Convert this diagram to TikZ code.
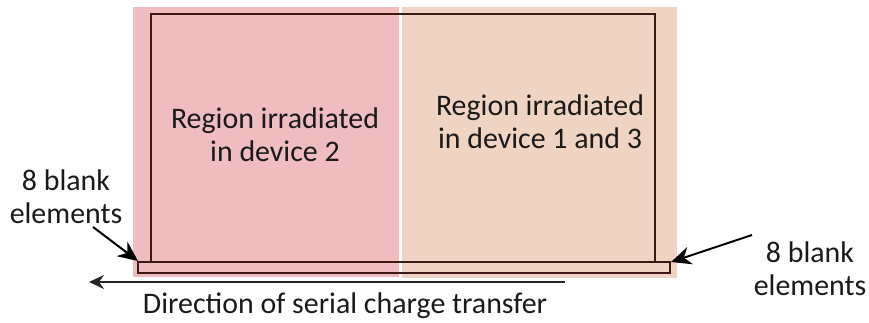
\documentclass[tikz,border=0pt]{standalone}
\usepackage{fontspec}
\setmainfont{Carlito}
\usetikzlibrary{arrows.meta}
\definecolor{pinkreg}{HTML}{EFBCBF}
\definecolor{peachreg}{HTML}{F0D4C3}
\definecolor{outl}{HTML}{3A1A12}
\definecolor{txt}{HTML}{1A1A1A}
\tikzset{
  lbl/.style={font=\fontsize{30}{33}\selectfont, text=txt, align=center, inner sep=0pt},
  outline/.style={draw=outl, line width=2bp},
  ptr/.style={draw=black, line width=2bp, -{Stealth[length=20bp,width=18bp]}},
  dirarrow/.style={draw=black!85, line width=2bp, -{Stealth[length=15bp,width=14bp,inset=5bp]}}
}
\begin{document}
\begin{tikzpicture}[x=1bp,y=-1bp]
\useasboundingbox (0,0) rectangle (869,322);
% regions
\fill[pinkreg] (133,7) rectangle (399,277);
\fill[peachreg] (402,7) rectangle (677,278);
% outlines
\draw[outline] (151,262) -- (151,14) -- (655,14) -- (655,262);
\draw[outline] (138,262) rectangle (670,273);
\coordinate (lcorner) at (138,261);
\coordinate (rcorner) at (671,262);
\coordinate (dstart) at (565,282);
\coordinate (dend) at (89,282);
% texts
\node[lbl] (reg2) at (275,135) {Region irradiated\\in device 2};
\node[lbl] (reg13) at (540,122) {Region irradiated\\in device 1 and 3};
\node[lbl] (lblank) at (66,197) {8 blank\\elements};
\node[lbl] (rblank) at (810,269) {8 blank\\elements};
\node[lbl] (dir) at (345,306) {Direction of serial charge transfer};
% arrows
\draw[ptr] (93,227) -- (lcorner);
\draw[ptr] (752,235) -- (rcorner);
\draw[dirarrow] (dstart) -- (dend);
\end{tikzpicture}
\end{document}
